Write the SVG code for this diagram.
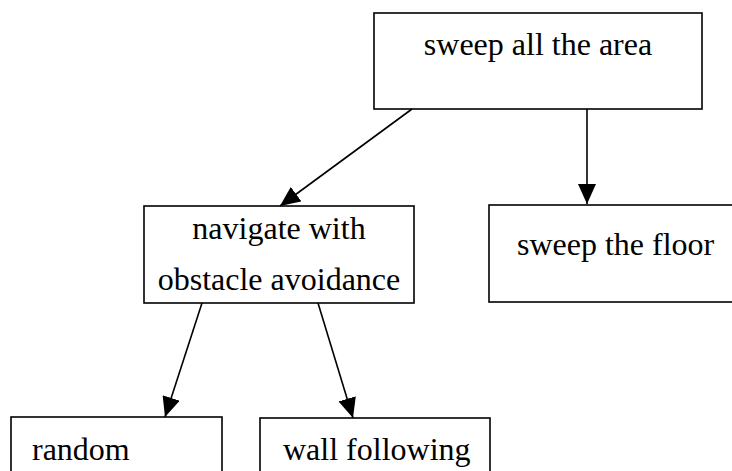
<svg xmlns="http://www.w3.org/2000/svg" width="732" height="471" viewBox="0 0 732 471">
<style>
.box{fill:#fff;stroke:#000;stroke-width:1.6}
.t{font-family:"Liberation Serif","Times New Roman",serif;font-size:32px;fill:#000}
.c{stroke:#000;stroke-width:1.6;fill:none}
</style>
<defs>
<marker id="ah" markerWidth="20" markerHeight="18" refX="20" refY="9" orient="auto" markerUnits="userSpaceOnUse">
<path d="M0,0 L20,9 L0,18 Z" fill="#000"/>
</marker>
</defs>
<rect width="732" height="471" fill="#fff"/>
<g id="n-sweep-all">
<rect class="box" x="374" y="13" width="328" height="96"/>
<text class="t" x="538" y="55" text-anchor="middle">sweep all the area</text>
</g>
<g id="n-navigate">
<rect class="box" x="144" y="206" width="270" height="97"/>
<text class="t" x="279" y="239" text-anchor="middle">navigate with</text>
<text class="t" x="279" y="290" text-anchor="middle">obstacle avoidance</text>
</g>
<g id="n-sweep-floor">
<rect class="box" x="489" y="205" width="260" height="97"/>
<text class="t" x="517" y="255">sweep the floor</text>
</g>
<g id="n-random">
<rect class="box" x="11" y="417" width="211" height="70"/>
<text class="t" x="32" y="460">random</text>
</g>
<g id="n-wall">
<rect class="box" x="260" y="418" width="230" height="70"/>
<text class="t" x="283" y="460">wall following</text>
</g>
<g id="connectors">
<line class="c" x1="412" y1="109" x2="280" y2="206" marker-end="url(#ah)"/>
<line class="c" x1="587" y1="109" x2="587" y2="204" marker-end="url(#ah)"/>
<line class="c" x1="202" y1="303" x2="165" y2="417" marker-end="url(#ah)"/>
<line class="c" x1="318" y1="303" x2="353" y2="418" marker-end="url(#ah)"/>
</g>
</svg>
